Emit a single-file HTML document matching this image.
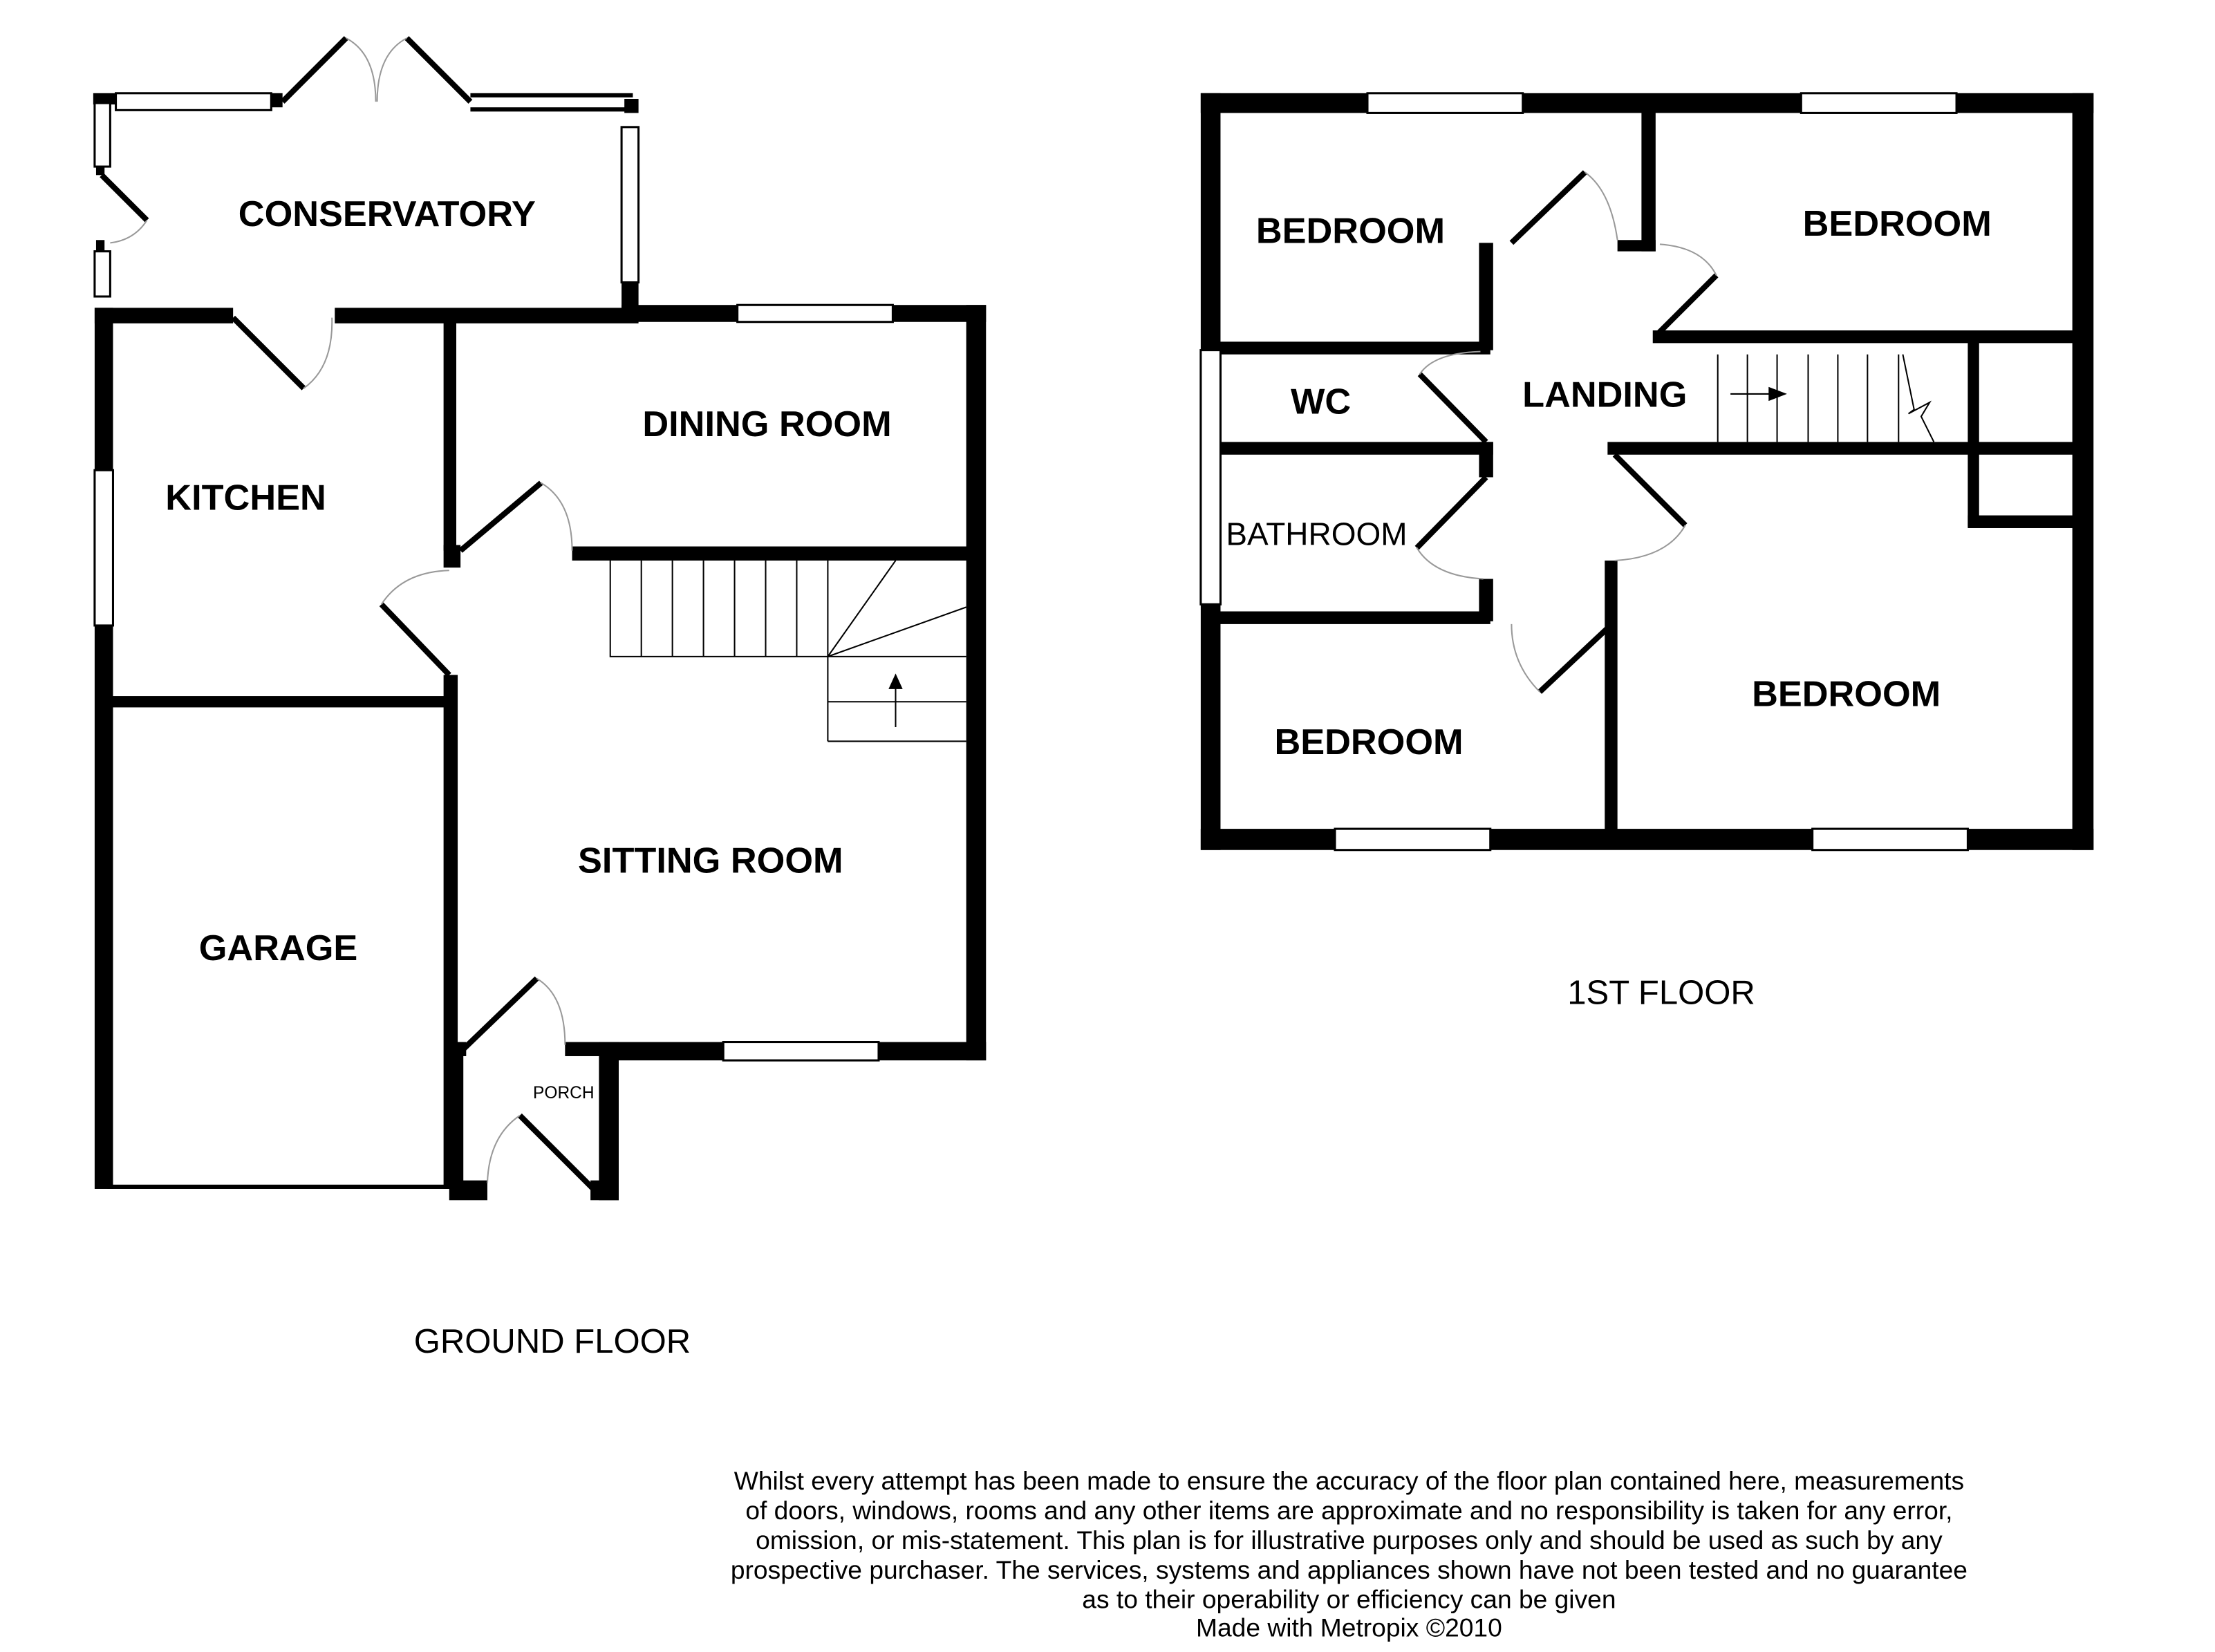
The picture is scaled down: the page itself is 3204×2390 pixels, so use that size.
<!DOCTYPE html>
<html><head><meta charset="utf-8"><style>html,body{margin:0;padding:0;background:#fff}svg{display:block}</style></head>
<body>
<svg width="3204" height="2390" viewBox="0 0 1568 1170" preserveAspectRatio="none" xmlns="http://www.w3.org/2000/svg" font-family="'Liberation Sans', sans-serif">
<rect width="1568" height="1170" fill="#fff"/>
<g fill="#000">
<rect x="68" y="68" width="8" height="8"/>
<rect x="192" y="66" width="8" height="10"/>
<rect x="333" y="66" width="115" height="3"/>
<rect x="333" y="76" width="115" height="3"/>
<rect x="442" y="70" width="10" height="10"/>
<rect x="66" y="66" width="16" height="8"/>
<rect x="68" y="118" width="6" height="6"/>
<rect x="68" y="170" width="6" height="8"/>
<rect x="67" y="218" width="13" height="624"/>
<rect x="67" y="218" width="98" height="11"/>
<rect x="237" y="218" width="215" height="11"/>
<rect x="440" y="200" width="12" height="25"/>
<rect x="440" y="216" width="82" height="12"/>
<rect x="632" y="216" width="66" height="12"/>
<rect x="684" y="216" width="14" height="535"/>
<rect x="428" y="738" width="84" height="13"/>
<rect x="622" y="738" width="76" height="13"/>
<rect x="424" y="738" width="14" height="112"/>
<rect x="418" y="836" width="20" height="14"/>
<rect x="318" y="836" width="27" height="14"/>
<rect x="314" y="228" width="9" height="162"/>
<rect x="314" y="386" width="12" height="16"/>
<rect x="405" y="387" width="285" height="10"/>
<rect x="314" y="478" width="10" height="364"/>
<rect x="76" y="493" width="242" height="8"/>
<rect x="76" y="839" width="242" height="3"/>
<rect x="320" y="738" width="10" height="10"/>
<rect x="400" y="738" width="28" height="10"/>
<rect x="318" y="738" width="10" height="100"/>
<rect x="850" y="66" width="118" height="14"/>
<rect x="1078" y="66" width="197" height="14"/>
<rect x="1385" y="66" width="97" height="14"/>
<rect x="850" y="66" width="14" height="182"/>
<rect x="850" y="428" width="14" height="174"/>
<rect x="1467" y="66" width="15" height="536"/>
<rect x="850" y="587" width="95" height="15"/>
<rect x="1055" y="587" width="228" height="15"/>
<rect x="1393" y="587" width="89" height="15"/>
<rect x="1162" y="78" width="10" height="100"/>
<rect x="1145" y="170" width="27" height="8"/>
<rect x="1047" y="172" width="10" height="76"/>
<rect x="860" y="242" width="195" height="9"/>
<rect x="1170" y="234" width="300" height="9"/>
<rect x="860" y="313" width="197" height="9"/>
<rect x="1138" y="313" width="332" height="9"/>
<rect x="1393" y="240" width="8" height="133"/>
<rect x="1393" y="365" width="77" height="9"/>
<rect x="860" y="433" width="195" height="9"/>
<rect x="1047" y="410" width="10" height="30"/>
<rect x="1047" y="313" width="10" height="25"/>
<rect x="1136" y="397" width="9" height="192"/>
</g>
<g fill="#fff" stroke="#000" stroke-width="1.5">
<rect x="82" y="66" width="110" height="12"/>
<rect x="67" y="73" width="11" height="45"/>
<rect x="67" y="178" width="11" height="32"/>
<rect x="440" y="90" width="12" height="110"/>
<rect x="522" y="216" width="110" height="12"/>
<rect x="67" y="333" width="13" height="110"/>
<rect x="512" y="738" width="110" height="13"/>
<rect x="968" y="66" width="110" height="14"/>
<rect x="1275" y="66" width="110" height="14"/>
<rect x="850" y="248" width="14" height="180"/>
<rect x="945" y="587" width="110" height="15"/>
<rect x="1283" y="587" width="110" height="15"/>
</g>
<g stroke="#000" stroke-width="4" fill="none">
<line x1="200" y1="72" x2="245" y2="27"/><line x1="333" y1="72" x2="288" y2="27"/>
<line x1="72" y1="124" x2="104" y2="156"/>
<line x1="165" y1="225" x2="215" y2="275"/>
<line x1="326" y1="390" x2="383" y2="342"/>
<line x1="318" y1="478" x2="270" y2="428"/>
<line x1="326" y1="745" x2="380" y2="693"/>
<line x1="420" y1="842" x2="368" y2="790"/>
<line x1="1070" y1="172" x2="1122" y2="122"/>
<line x1="1172" y1="238" x2="1215" y2="195"/>
<line x1="1052" y1="313" x2="1005" y2="265"/>
<line x1="1052" y1="338" x2="1003" y2="388"/>
<line x1="1143" y1="322" x2="1193" y2="372"/>
<line x1="1140" y1="443" x2="1090" y2="490"/>
</g>
<g stroke="#999" stroke-width="1" fill="none">
<path d="M245 27 Q266 38 266 72"/><path d="M288 27 Q267 38 267 72"/>
<path d="M104 156 Q95 170 78 172"/>
<path d="M215 275 Q236 260 235 225"/>
<path d="M383 342 Q405 355 405 390"/>
<path d="M270 428 Q285 405 318 404"/>
<path d="M380 693 Q400 705 400 740"/>
<path d="M368 790 Q346 805 345 838"/>
<path d="M1122 122 Q1140 135 1145 170"/>
<path d="M1215 195 Q1205 175 1175 173"/>
<path d="M1005 265 Q1015 250 1048 249"/>
<path d="M1003 388 Q1015 408 1050 410"/>
<path d="M1193 372 Q1180 395 1143 397"/>
<path d="M1090 490 Q1070 470 1070 442"/>
</g>
<g stroke="#000" stroke-width="1" fill="none">
<polyline points="432,397 432,465 586,465"/>
<line x1="454" y1="397" x2="454" y2="465"/><line x1="476" y1="397" x2="476" y2="465"/>
<line x1="498" y1="397" x2="498" y2="465"/><line x1="520" y1="397" x2="520" y2="465"/>
<line x1="542" y1="397" x2="542" y2="465"/><line x1="564" y1="397" x2="564" y2="465"/>
<line x1="586" y1="397" x2="586" y2="525"/>
<line x1="586" y1="465" x2="634" y2="397"/>
<line x1="586" y1="465" x2="684" y2="430"/>
<line x1="586" y1="465" x2="684" y2="465"/>
<line x1="586" y1="497" x2="684" y2="497"/>
<line x1="586" y1="525" x2="684" y2="525"/>
<line x1="634" y1="515" x2="634" y2="483"/>
</g>
<polygon points="629,488 639,488 634,477" fill="#000"/>
<g stroke="#000" stroke-width="1" fill="none">
<line x1="1216" y1="251" x2="1216" y2="313"/><line x1="1237" y1="251" x2="1237" y2="313"/>
<line x1="1258" y1="251" x2="1258" y2="313"/><line x1="1280" y1="251" x2="1280" y2="313"/>
<line x1="1301" y1="251" x2="1301" y2="313"/><line x1="1322" y1="251" x2="1322" y2="313"/>
<line x1="1344" y1="251" x2="1344" y2="313"/>
<polyline points="1347,251 1355,290 1351,293 1366,285 1360,295 1369,313"/>
<line x1="1225" y1="279" x2="1255" y2="279"/>
</g>
<polygon points="1252,274 1252,284 1265,279" fill="#000"/>
<g font-weight="bold" font-size="25.6" fill="#000" text-anchor="middle">
<text x="274" y="160">CONSERVATORY</text>
<text x="174" y="361">KITCHEN</text>
<text x="543" y="309">DINING ROOM</text>
<text x="503" y="618">SITTING ROOM</text>
<text x="197" y="680">GARAGE</text>
<text x="956" y="172">BEDROOM</text>
<text x="1343" y="167">BEDROOM</text>
<text x="935" y="293">WC</text>
<text x="1136" y="288">LANDING</text>
<text x="969" y="534">BEDROOM</text>
<text x="1307" y="500">BEDROOM</text>
</g>
<text x="932" y="386" font-size="22.5" text-anchor="middle">BATHROOM</text>
<text x="399" y="778" font-size="12" text-anchor="middle">PORCH</text>
<text x="391" y="958" font-size="24" text-anchor="middle">GROUND FLOOR</text>
<text x="1176" y="711" font-size="24" text-anchor="middle">1ST FLOOR</text>
<g font-size="18.2" text-anchor="middle" fill="#000">
<text x="955" y="1055">Whilst every attempt has been made to ensure the accuracy of the floor plan contained here, measurements</text>
<text x="955" y="1076">of doors, windows, rooms and any other items are approximate and no responsibility is taken for any error,</text>
<text x="955" y="1097">omission, or mis-statement. This plan is for illustrative purposes only and should be used as such by any</text>
<text x="955" y="1118">prospective purchaser. The services, systems and appliances shown have not been tested and no guarantee</text>
<text x="955" y="1139">as to their operability or efficiency can be given</text>
<text x="955" y="1159">Made with Metropix ©2010</text>
</g>
</svg>
</body></html>
